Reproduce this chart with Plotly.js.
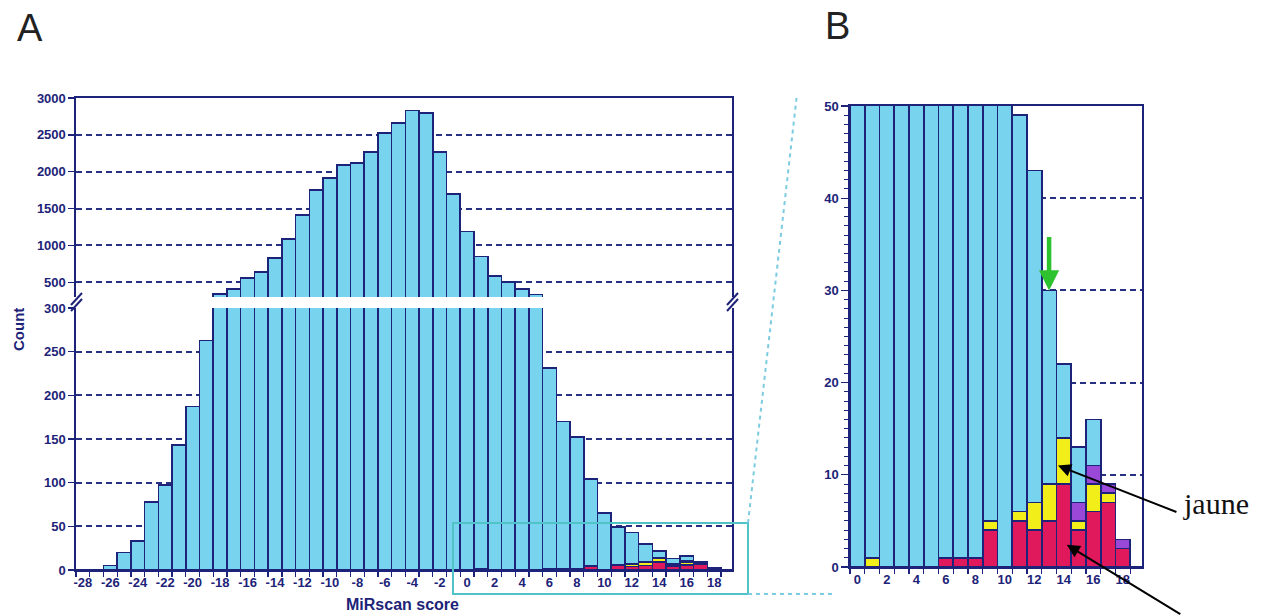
<!DOCTYPE html>
<html><head><meta charset="utf-8">
<script src="https://cdn.plot.ly/plotly-3.0.1.min.js"></script>
<style>html,body{margin:0;padding:0;background:#fff}#chart{width:1268px;height:615px}</style>
</head><body><div id="chart"></div>
<script>
// ---- data ----
const scores = [-28,-27,-26,-25,-24,-23,-22,-21,-20,-19,-18,-17,-16,-15,-14,-13,-12,-11,-10,-9,-8,-7,-6,-5,-4,-3,-2,-1,0,1,2,3,4,5,6,7,8,9,10,11,12,13,14,15,16,17,18,19];
const totalCount = [0,0,5,20,33,78,97,143,187,263,340,410,554,636,826,1085,1411,1751,1914,2090,2117,2266,2524,2660,2830,2800,2270,1700,1190,851,581,500,405,332,231,170,152,104,65,49,43,30,22,13,16,9,3,0];
const zoomScores = [0,1,2,3,4,5,6,7,8,9,10,11,12,13,14,15,16,17,18,19];
const redCount    = [0,0,0,0,0,0,1,1,1,4,0,5,4,5,9,4,6,7,2,0];
const yellowCount = [0,1,0,0,0,0,0,0,0,1,0,1,3,4,5,1,3,1,0,0];
const purpleCount = [0,0,0,0,0,0,0,0,0,0,0,0,0,0,0,2,2,1,1,0];
const xTickVals = [-28,-26,-24,-22,-20,-18,-16,-14,-12,-10,-8,-6,-4,-2,0,2,4,6,8,10,12,14,16,18];
const xTickText = ['-28','-26','-24','-22','-20','-18','-16','-14','-12','-10','-8','-6','-4','-2','0','2','4','6','8','10','12','14','16','18'];
const zoomTickVals = [0,2,4,6,8,10,12,14,16,18];
const lowTicks = [0,50,100,150,200,250,300];
const highTicks = [500,1000,1500,2000,2500,3000];
const zoomYTicks = [0,10,20,30,40,50];

// ---- helpers ----
const W = 1268, H = 615;
const px = v => v / W, py = v => 1 - v / H;
const NAVY = '#1d2378', BLUE = '#78d4ee', RED = '#e0195c', YEL = '#f2ee1a', PUR = '#9a48d8';
const nz = a => a.map(v => v === 0 ? null : v);
const lookup = (arr) => scores.map(s => { const i = zoomScores.indexOf(s); return i < 0 ? 0 : arr[i]; });
const redA = lookup(redCount), yelA = lookup(yellowCount), purA = lookup(purpleCount);
const blueA = totalCount.map((t, i) => t - redA[i] - yelA[i] - purA[i]);
const zoomTotal = zoomScores.map(s => totalCount[scores.indexOf(s)]);
const blueZ = zoomTotal.map((t, i) => t - redCount[i] - yellowCount[i] - purpleCount[i]);

const outline = {color: NAVY, width: 1.6};
function bar(x, y, color, xa, ya) {
  return {type: 'bar', x: x, y: y, xaxis: xa, yaxis: ya, marker: {color: color, line: outline},
          hoverinfo: 'skip', showlegend: false};
}
const data = [
  bar(scores, nz(redA), RED, 'x', 'y'),
  bar(scores, nz(yelA), YEL, 'x', 'y'),
  bar(scores, nz(purA), PUR, 'x', 'y'),
  bar(scores, blueA, BLUE, 'x', 'y'),
  bar(scores, totalCount, BLUE, 'x3', 'y2'),
  bar(zoomScores, nz(redCount), RED, 'x2', 'y3'),
  bar(zoomScores, nz(yellowCount), YEL, 'x2', 'y3'),
  bar(zoomScores, nz(purpleCount), PUR, 'x2', 'y3'),
  bar(zoomScores, blueZ, BLUE, 'x2', 'y3')
];

const tickFont = {family: 'Liberation Sans, Arial, sans-serif', size: 13, color: NAVY, weight: 'bold'};
const gridStyle = {showgrid: true, gridcolor: '#283082', griddash: '6px,4px', gridwidth: 2};
const lineStyle = {showline: true, linecolor: NAVY, linewidth: 1.6, zeroline: false};

const layout = {
  width: W, height: H, margin: {l: 0, r: 0, t: 0, b: 0},
  paper_bgcolor: '#ffffff', plot_bgcolor: 'rgba(0,0,0,0)',
  barmode: 'stack', bargap: 0, showlegend: false,
  xaxis: Object.assign({domain: [px(76), px(732)], range: [-28.5, 19.3], anchor: 'y',
    tickmode: 'array', tickvals: xTickVals, ticktext: xTickText, ticks: '', tickfont: tickFont, showgrid: false,
    minor: {tick0: -28.5, dtick: 1, ticks: 'outside', ticklen: 5, tickcolor: NAVY, tickwidth: 1.3, showgrid: false}}, lineStyle),
  yaxis: Object.assign({domain: [py(570), py(308)], range: [0, 300], anchor: 'x',
    tickmode: 'array', tickvals: lowTicks, ticks: 'outside', ticklen: 6, tickcolor: NAVY, tickwidth: 1.4,
    tickfont: tickFont, mirror: true}, lineStyle, gridStyle),
  xaxis3: Object.assign({domain: [px(76), px(732)], matches: 'x', anchor: 'y2', side: 'top',
    showticklabels: false, ticks: '', showgrid: false}, lineStyle),
  yaxis2: Object.assign({domain: [py(297), py(98)], range: [300, 3000], anchor: 'x3',
    tickmode: 'array', tickvals: highTicks, ticks: 'outside', ticklen: 6, tickcolor: NAVY, tickwidth: 1.4,
    tickfont: tickFont, mirror: true}, lineStyle, gridStyle),
  xaxis2: Object.assign({domain: [px(850), px(1142)], range: [-0.5, 19.3], anchor: 'y3',
    tickmode: 'array', tickvals: zoomTickVals, ticks: '', tickfont: tickFont, showgrid: false, mirror: true,
    minor: {tick0: -0.5, dtick: 1, ticks: 'outside', ticklen: 5, tickcolor: NAVY, tickwidth: 1.3, showgrid: false}}, lineStyle),
  yaxis3: Object.assign({domain: [py(567), py(106)], range: [0, 50], anchor: 'x2',
    tickmode: 'array', tickvals: zoomYTicks, ticks: 'outside', ticklen: 7, tickcolor: NAVY, tickwidth: 1.4,
    tickfont: tickFont, mirror: true,
    minor: {tick0: 0, dtick: 1, ticks: 'outside', ticklen: 4, tickcolor: NAVY, tickwidth: 1, showgrid: false}}, lineStyle, gridStyle),
  shapes: [
    {type: 'rect', xref: 'paper', yref: 'paper', x0: px(453), x1: px(748), y0: py(594), y1: py(523),
     line: {color: '#4fc3c6', width: 2}, layer: 'above'},
    {type: 'line', xref: 'paper', yref: 'paper', x0: px(748), y0: py(523), x1: px(797), y1: py(94),
     line: {color: '#7ccbe0', width: 2, dash: '4px,4px'}},
    {type: 'line', xref: 'paper', yref: 'paper', x0: px(748), y0: py(594), x1: px(832), y1: py(594),
     line: {color: '#7ccbe0', width: 2, dash: '4px,4px'}},
    {type: 'line', xref: 'paper', yref: 'paper', x0: px(71), y0: py(305), x1: px(82), y1: py(293), line: {color: NAVY, width: 2}},
    {type: 'line', xref: 'paper', yref: 'paper', x0: px(71), y0: py(311), x1: px(82), y1: py(299), line: {color: NAVY, width: 2}},
    {type: 'line', xref: 'paper', yref: 'paper', x0: px(727), y0: py(305), x1: px(738), y1: py(293), line: {color: NAVY, width: 2}},
    {type: 'line', xref: 'paper', yref: 'paper', x0: px(727), y0: py(311), x1: px(738), y1: py(299), line: {color: NAVY, width: 2}}
  ],
  annotations: [
    {xref: 'paper', yref: 'paper', x: px(30), y: py(28), xanchor: 'center', yanchor: 'middle', text: 'A', showarrow: false,
     font: {family: 'Liberation Sans, Arial, sans-serif', size: 38, color: '#222'}},
    {xref: 'paper', yref: 'paper', x: px(837), y: py(26), xanchor: 'center', yanchor: 'middle', text: 'B', showarrow: false,
     font: {family: 'Liberation Sans, Arial, sans-serif', size: 38, color: '#222'}},
    {xref: 'paper', yref: 'paper', x: px(18), y: py(330), xanchor: 'center', yanchor: 'middle', text: 'Count', textangle: -90, showarrow: false,
     font: {family: 'Liberation Sans, Arial, sans-serif', size: 15, color: NAVY, weight: 'bold'}},
    {xref: 'paper', yref: 'paper', x: px(402), y: py(604), xanchor: 'center', yanchor: 'middle', text: 'MiRscan score', showarrow: false,
     font: {family: 'Liberation Sans, Arial, sans-serif', size: 16, color: NAVY, weight: 'bold'}},
    {xref: 'paper', yref: 'paper', x: px(1216), y: py(503), xanchor: 'center', yanchor: 'middle', text: 'jaune', showarrow: false,
     font: {family: 'Liberation Serif, Times New Roman, serif', size: 30, color: '#111'}},
    {xref: 'x2', yref: 'y3', x: 13.6, y: 11, ax: 120, ay: 47, text: '', showarrow: true,
     arrowhead: 2, arrowsize: 1.3, arrowwidth: 2, arrowcolor: '#000'},
    {xref: 'x2', yref: 'y3', x: 14.2, y: 2.4, ax: 115, ay: 75, text: '', showarrow: true,
     arrowhead: 2, arrowsize: 1.3, arrowwidth: 2, arrowcolor: '#000'},
    {xref: 'x2', yref: 'y3', x: 13, y: 30, ax: 0, ay: -55, text: '', showarrow: true,
     arrowhead: 2, arrowsize: 0.9, arrowwidth: 4.5, arrowcolor: '#2fc22f'}
  ]
};

Plotly.newPlot('chart', data, layout, {displayModeBar: false, staticPlot: true});
</script>
</body></html>
